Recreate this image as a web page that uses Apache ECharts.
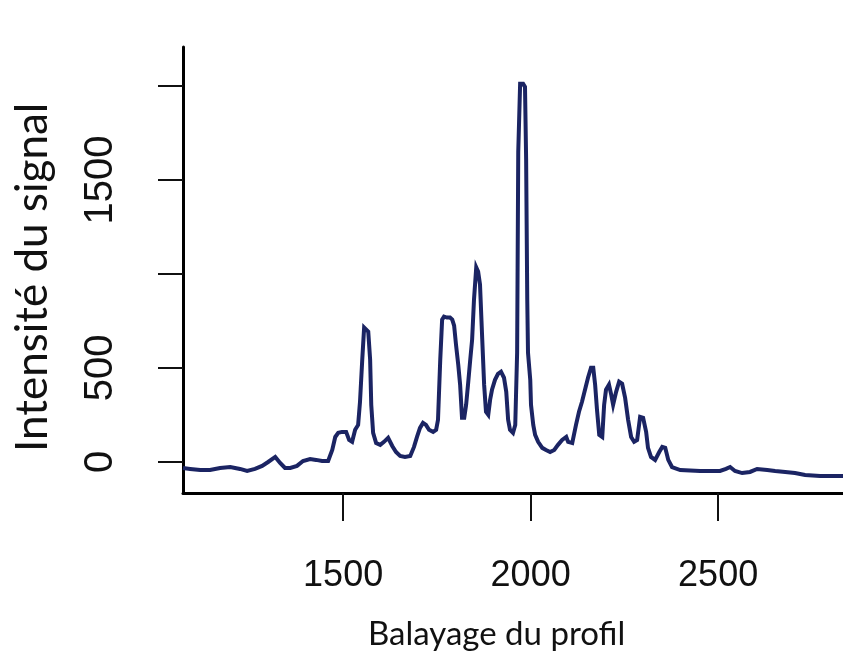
<!DOCTYPE html>
<html>
<head>
<meta charset="utf-8">
<title>Balayage du profil</title>
<script src="https://cdn.jsdelivr.net/npm/echarts@6/dist/echarts.min.js"></script>
<style>
  html, body { margin: 0; padding: 0; background: #ffffff; }
  #chart { width: 843px; height: 653px; }
</style>
</head>
<body>
<div id="chart"></div>
<script>
// Scan position along the profile
const scanPos = [
  1073, 1092, 1119, 1145, 1172, 1199, 1225, 1244, 1265, 1284,
  1300, 1319, 1332, 1345, 1359, 1377, 1393, 1412, 1428, 1444,
  1460, 1471, 1479, 1487, 1497, 1508, 1516, 1524, 1532, 1540,
  1545, 1551, 1556, 1561, 1567, 1572, 1575, 1580, 1588, 1599,
  1609, 1620, 1631, 1641, 1652, 1665, 1679, 1689, 1697, 1705,
  1713, 1721, 1729, 1740, 1748, 1753, 1759, 1764, 1769, 1777,
  1785, 1791, 1796, 1801, 1807, 1812, 1817, 1823, 1828, 1833,
  1839, 1844, 1849, 1855, 1860, 1865, 1871, 1876, 1881, 1887,
  1892, 1897, 1905, 1913, 1921, 1929, 1935, 1940, 1945, 1953,
  1959, 1964, 1967, 1972, 1980, 1985, 1988, 1991, 1993, 1999,
  2001, 2007, 2012, 2020, 2031, 2041, 2052, 2063, 2073, 2084,
  2095, 2100, 2111, 2121, 2129, 2137, 2145, 2153, 2161, 2167,
  2172, 2177, 2183, 2191, 2196, 2201, 2209, 2215, 2220, 2228,
  2236, 2244, 2252, 2260, 2268, 2276, 2284, 2292, 2300, 2308,
  2313, 2321, 2332, 2343, 2351, 2359, 2367, 2377, 2399, 2452,
  2505, 2521, 2532, 2545, 2564, 2585, 2604, 2631, 2652, 2679,
  2705, 2732, 2772, 2833
];

// Signal intensity at each scan position
const intensity = [
  -32, -37, -43, -43, -32, -27, -37, -48, -37, -21,
  0, 27, -5, -32, -32, -21, 5, 16, 11, 5,
  5, 64, 133, 155, 160, 160, 117, 107, 171, 197,
  320, 544, 715, 715, 693, 544, 304, 155, 101, 91,
  107, 128, 85, 53, 32, 27, 32, 80, 133, 181,
  208, 197, 171, 160, 171, 224, 544, 757, 773, 768,
  768, 757, 725, 624, 517, 411, 235, 235, 304, 411,
  544, 651, 864, 1035, 1013, 944, 651, 411, 267, 251,
  331, 384, 437, 469, 480, 448, 373, 224, 171, 155,
  197, 581, 1648, 2011, 2011, 1995, 1611, 864, 581, 437,
  304, 197, 144, 107, 75, 64, 53, 64, 91, 117,
  133, 107, 101, 197, 267, 320, 384, 448, 501, 501,
  411, 277, 144, 133, 304, 384, 411, 357, 304, 373,
  427, 416, 341, 224, 133, 107, 117, 240, 235, 160,
  75, 27, 11, 53, 80, 75, 11, -27, -43, -48,
  -48, -37, -27, -48, -59, -53, -37, -43, -48, -53,
  -59, -69, -75, -75
];

const xTicks = [1500, 2000, 2500];
const yTicks = [0, 500, 1000, 1500, 2000];
const yTickLabels = [0, 500, 1500];

const series = scanPos.map((x, i) => [x, intensity[i]]);

const sansStack = "'Liberation Sans', Arial, Helvetica, sans-serif";
const titleStack = "Lato, 'Open Sans', sans-serif";

const chart = echarts.init(document.getElementById('chart'), null, { renderer: 'canvas' });

chart.setOption({
  backgroundColor: '#ffffff',
  animation: false,
  grid: {
    left: 183,
    right: 0,
    top: 47,
    bottom: 160,
    containLabel: false,
    outerBoundsMode: 'none'
  },
  xAxis: {
    type: 'value',
    min: 1073,
    max: 2833,
    axisLine: { onZero: false, lineStyle: { color: '#000000', width: 3 } },
    axisTick: {
      customValues: xTicks,
      length: 28,
      lineStyle: { color: '#111111', width: 2 }
    },
    axisLabel: {
      customValues: xTicks,
      formatter: (v) => String(v),
      margin: 65,
      fontFamily: sansStack,
      fontSize: 36,
      color: '#111111'
    },
    splitLine: { show: false }
  },
  yAxis: {
    type: 'value',
    min: -165,
    max: 2207,
    axisLine: { show: true, onZero: false, lineStyle: { color: '#000000', width: 3 } },
    axisTick: {
      show: true,
      customValues: yTicks,
      length: 25,
      lineStyle: { color: '#111111', width: 2 }
    },
    axisLabel: {
      customValues: yTickLabels,
      formatter: (v) => String(v),
      rotate: 90,
      margin: 62,
      fontFamily: sansStack,
      fontSize: 40,
      color: '#111111'
    },
    splitLine: { show: false }
  },
  graphic: [
    {
      type: 'text',
      left: 368,
      top: 618,
      style: {
        text: 'Balayage du profil',
        fontFamily: titleStack,
        fontSize: 33,
        fill: '#111111'
      }
    },
    {
      type: 'text',
      x: 11,
      y: 452,
      rotation: Math.PI / 2,
      style: {
        text: 'Intensité du signal',
        fontFamily: titleStack,
        fontSize: 44,
        fill: '#111111'
      }
    }
  ],
  series: [
    {
      type: 'line',
      data: series,
      showSymbol: false,
      symbol: 'none',
      lineStyle: { color: '#1b2463', width: 4, join: 'miter' },
      emphasis: { disabled: true }
    }
  ]
});
</script>
</body>
</html>
